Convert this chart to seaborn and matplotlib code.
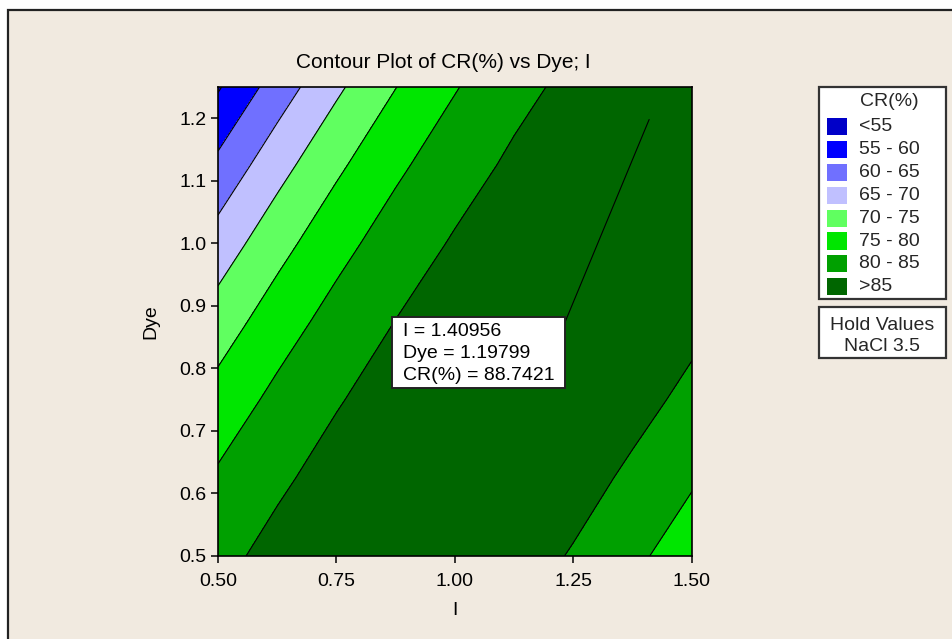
import matplotlib
matplotlib.use('Agg')
import matplotlib.pyplot as plt
from matplotlib.patches import Rectangle
import seaborn as sns

# grid: CR(%) at each (I, Dye) node
i_vals = [0.5, 0.625, 0.75, 0.875, 1.0, 1.125, 1.25, 1.375, 1.5]
dye_vals = [0.5, 0.625, 0.75, 0.875, 1.0, 1.125, 1.25]
cr_grid = [
    [83.73, 86.41, 88.07, 88.73, 88.37, 87.01, 84.64, 81.26, 76.87],
    [80.68, 84.21, 86.73, 88.24, 88.74, 88.23, 86.72, 84.19, 80.66],
    [76.89, 81.28, 84.66, 87.02, 88.38, 88.73, 88.07, 86.40, 83.95],
    [72.39, 77.63, 81.86, 85.08, 87.30, 88.50, 88.69, 87.88, 86.05],
    [67.15, 73.25, 78.34, 82.42, 85.48, 87.54, 88.59, 88.63, 87.66],
    [61.20, 68.15, 74.09, 79.03, 82.95, 85.86, 87.77, 88.66, 88.55],
    [54.52, 62.33, 69.12, 74.91, 79.69, 83.60, 86.22, 87.97, 88.71],
]
levels = [40, 55, 60, 65, 70, 75, 80, 85, 95]
band_labels = ['<55', '55 - 60', '60 - 65', '65 - 70', '70 - 75', '75 - 80', '80 - 85', '>85']
band_colors = ['#0000C8', '#0000FF', '#7070FF', '#C0C0FF', '#60FF60', '#00E600', '#00A000', '#006600']

# flagged point and the line running down from it
flag_i, flag_dye, flag_cr = 1.40956, 1.19799, 88.7421
ridge_i = [1.40956, 1.219]
ridge_dye = [1.19799, 0.85]
hold_lines = ['Hold Values', 'NaCl 3.5']

sns.set_theme(style='ticks')
plt.rcParams['font.family'] = ['Liberation Sans', 'DejaVu Sans']

W, H = 953, 639
fig = plt.figure(figsize=(W / 100, H / 100), dpi=100, facecolor='white')


def fx(px):
    return px / W


def fy(py):
    return 1 - py / H


# beige panel with dark frame (runs off right/bottom edges)
fig.patches.append(Rectangle((fx(8), -0.1), 1.2, fy(10) + 0.1, transform=fig.transFigure,
                             facecolor='#F1EAE0', edgecolor='#222222', lw=1.6, zorder=-5))

ax = fig.add_axes([fx(218), fy(556), (692 - 218) / W, (556 - 87) / H])
ax.contourf(i_vals, dye_vals, cr_grid, levels=levels, colors=band_colors)
ax.contour(i_vals, dye_vals, cr_grid, levels=levels[1:-1], colors='black', linewidths=0.8)
ax.plot(ridge_i, ridge_dye, color='black', lw=0.8)

ax.set_xlim(0.5, 1.5)
ax.set_ylim(0.5, 1.25)
ax.set_xticks([0.5, 0.75, 1.0, 1.25, 1.5])
ax.set_xticklabels(['0.50', '0.75', '1.00', '1.25', '1.50'])
ax.set_yticks([0.5, 0.6, 0.7, 0.8, 0.9, 1.0, 1.1, 1.2])
ax.set_yticklabels(['0.5', '0.6', '0.7', '0.8', '0.9', '1.0', '1.1', '1.2'])
ax.tick_params(direction='out', length=5, width=1.1, labelsize=14, colors='black', pad=3.5)
ax.tick_params(axis='x', pad=7)
for s in ax.spines.values():
    s.set_color('black')
    s.set_linewidth(1.2)
ax.set_xlabel('I', fontsize=14, labelpad=9, color='black')
ax.set_ylabel('Dye', fontsize=14, labelpad=14, color='black')

fig.text(fx(443), fy(62), 'Contour Plot of CR(%) vs Dye; I', fontsize=15,
         ha='center', va='center', color='black')

# flag box
fig.patches.append(Rectangle((fx(392), fy(388)), (565 - 392) / W, (388 - 317) / H,
                             transform=fig.transFigure, facecolor='white',
                             edgecolor='#222222', lw=1.4, zorder=5))
flag_text = ['I = %.5f' % flag_i, 'Dye = %.5f' % flag_dye, 'CR(%%) = %.4f' % flag_cr]
for k, t in enumerate(flag_text):
    fig.text(fx(403), fy(332 + 21.5 * k), t, fontsize=14, ha='left', va='center',
             color='black', zorder=6)

# legend box
fig.patches.append(Rectangle((fx(819), fy(299)), (946 - 819) / W, (299 - 87) / H,
                             transform=fig.transFigure, facecolor='white',
                             edgecolor='#333333', lw=1.6, zorder=5))
fig.text(fx(889), fy(102), 'CR(%)', fontsize=14, ha='center', va='center', zorder=6)
for k, (lab, col) in enumerate(zip(band_labels, band_colors)):
    yc = 126.7 + 22.86 * k
    fig.patches.append(Rectangle((fx(827), fy(yc + 8.5)), 20 / W, 17 / H,
                                 transform=fig.transFigure, facecolor=col,
                                 edgecolor='none', zorder=6))
    fig.text(fx(859), fy(yc), lab, fontsize=14, ha='left', va='center', zorder=6)

# hold values box
fig.patches.append(Rectangle((fx(819), fy(358)), (946 - 819) / W, (358 - 307) / H,
                             transform=fig.transFigure, facecolor='white',
                             edgecolor='#333333', lw=1.6, zorder=5))
for k, t in enumerate(hold_lines):
    fig.text(fx(882), fy(325 + 22 * k), t, fontsize=14, ha='center', va='center', zorder=6)

fig.savefig('out.png', dpi=100, facecolor='white')
